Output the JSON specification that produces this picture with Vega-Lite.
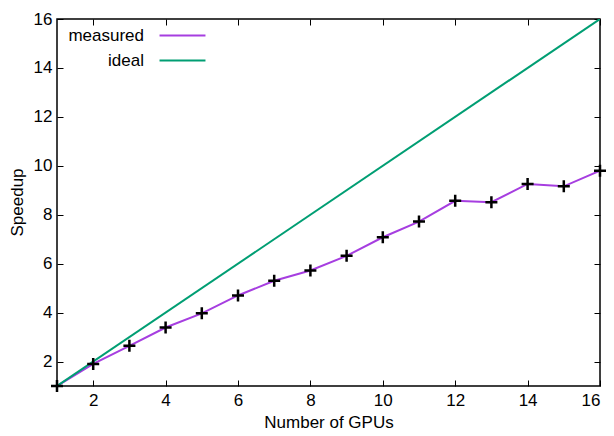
{
  "$schema": "https://vega.github.io/schema/vega-lite/v6.json",
  "width": 543,
  "height": 367,
  "autosize": {"type": "none"},
  "padding": {"left": 57, "top": 19, "right": 14, "bottom": 50},
  "background": "white",
  "config": {
    "font": "Liberation Sans",
    "view": {"stroke": "black", "strokeWidth": 1.5},
    "axis": {
      "grid": false,
      "domain": false,
      "tickColor": "black",
      "tickSize": -6,
      "tickWidth": 1,
      "labelFont": "Liberation Sans",
      "labelFontSize": 17,
      "labelColor": "black",
      "titleFont": "Liberation Sans",
      "titleFontSize": 17,
      "titleFontWeight": "normal",
      "titleColor": "black"
    }
  },
  "data": {
    "values": [
      {"gpus": 1, "speedup": 1.0, "series": "measured"},
      {"gpus": 2, "speedup": 1.9, "series": "measured"},
      {"gpus": 3, "speedup": 2.64, "series": "measured"},
      {"gpus": 4, "speedup": 3.39, "series": "measured"},
      {"gpus": 5, "speedup": 3.97, "series": "measured"},
      {"gpus": 6, "speedup": 4.7, "series": "measured"},
      {"gpus": 7, "speedup": 5.3, "series": "measured"},
      {"gpus": 8, "speedup": 5.72, "series": "measured"},
      {"gpus": 9, "speedup": 6.32, "series": "measured"},
      {"gpus": 10, "speedup": 7.08, "series": "measured"},
      {"gpus": 11, "speedup": 7.72, "series": "measured"},
      {"gpus": 12, "speedup": 8.57, "series": "measured"},
      {"gpus": 13, "speedup": 8.51, "series": "measured"},
      {"gpus": 14, "speedup": 9.26, "series": "measured"},
      {"gpus": 15, "speedup": 9.16, "series": "measured"},
      {"gpus": 16, "speedup": 9.8, "series": "measured"},
      {"gpus": 1, "speedup": 1, "series": "ideal"},
      {"gpus": 16, "speedup": 16, "series": "ideal"}
    ]
  },
  "layer": [
    {
      "mark": {"type": "line", "strokeWidth": 2, "clip": true},
      "encoding": {
        "x": {
          "field": "gpus", "type": "quantitative",
          "scale": {"domain": [1, 16], "nice": false},
          "axis": {"values": [2, 4, 6, 8, 10, 12, 14, 16], "title": "Number of GPUs", "labelPadding": 12, "titlePadding": 6}
        },
        "y": {
          "field": "speedup", "type": "quantitative",
          "scale": {"domain": [1, 16], "nice": false, "zero": false},
          "axis": {"values": [2, 4, 6, 8, 10, 12, 14, 16], "title": "Speedup", "labelPadding": 11, "titlePadding": 7, "titleY": 183}
        },
        "color": {
          "field": "series", "type": "nominal",
          "scale": {"domain": ["measured", "ideal"], "range": ["#a63ee0", "#009e73"]},
          "legend": {
            "title": null,
            "orient": "none",
            "legendX": 117,
            "legendY": 8,
            "padding": 0,
            "symbolType": "M-4,0L4,0",
            "symbolSize": 132,
            "symbolStrokeWidth": 2,
            "labelAlign": "right",
            "labelOffset": -47,
            "labelFontSize": 17,
            "labelFont": "Liberation Sans",
            "labelColor": "black",
            "rowPadding": 7
          }
        }
      }
    },
    {
      "transform": [{"filter": "datum.series === 'measured'"}],
      "mark": {"type": "point", "shape": "M-1,0L1,0M0,-1L0,1", "stroke": "black", "strokeWidth": 2.5, "size": 144, "opacity": 1, "filled": false, "clip": false},
      "encoding": {
        "x": {"field": "gpus", "type": "quantitative", "axis": {"orient": "top", "values": [2, 4, 6, 8, 10, 12, 14, 16], "labels": false, "title": null}},
        "y": {"field": "speedup", "type": "quantitative", "axis": {"orient": "right", "values": [2, 4, 6, 8, 10, 12, 14, 16], "labels": false, "title": null}}
      }
    }
  ],
  "resolve": {"axis": {"x": "independent", "y": "independent"}}
}
